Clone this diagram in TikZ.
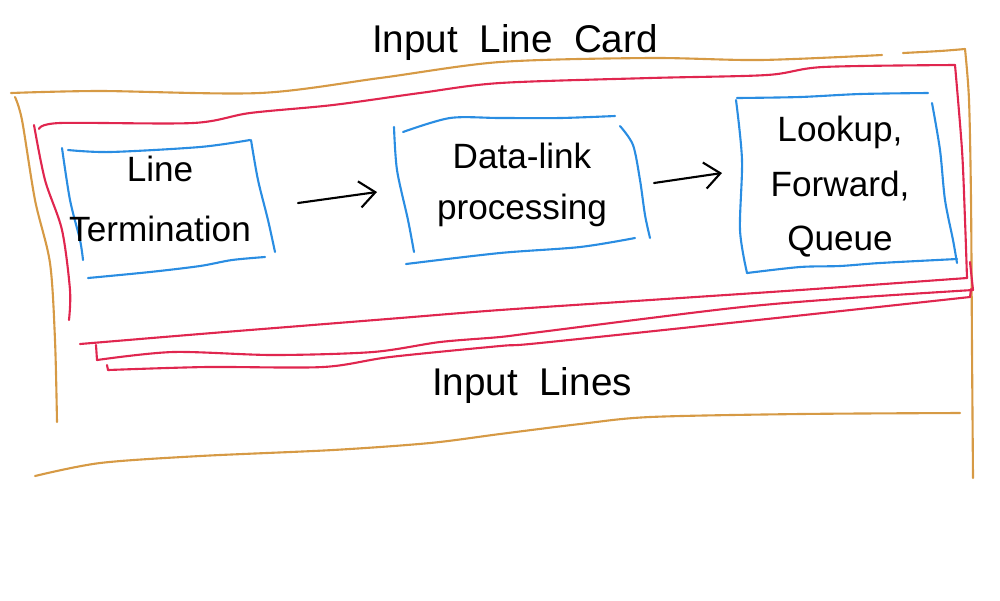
\documentclass[tikz,border=0pt]{standalone}
\usepackage{fontspec}
\setmainfont{Liberation Sans}
\usetikzlibrary{arrows.meta}
\definecolor{Ochre}{HTML}{D69A45}
\definecolor{Crimson}{HTML}{E0264F}
\definecolor{Sky}{HTML}{2A8DE2}
\begin{document}
\begin{tikzpicture}[x=.02cm,y=-.02cm,>={Straight Barb[length=9pt,width=15pt]},line cap=round,line join=round,
card/.style={Ochre,line width=1.2pt},lines/.style={Crimson,line width=1.2pt},unit/.style={Sky,line width=1.2pt},
hand/.style={font=\fontsize{20}{#1}\selectfont,align=center},title/.style={font=\fontsize{22}{26}\selectfont}]
\useasboundingbox(0,0)rectangle(1000,600);
% input line card (orange)
\draw[card]plot[smooth]coordinates{(11,93)(100,91)(260,93)(380,78)(500,62)(650,58)(760,60)(882,55)};
\draw[card]plot[smooth]coordinates{(903,53)(940,51)(965,49)};
\draw[card]plot[smooth]coordinates{(965,49)(969,100)(971,200)(972,350)(973,478)};
\draw[card]plot[smooth]coordinates{(15,97)(22,120)(35,200)(50,263)(55,340)(57,422)};
\draw[card]plot[smooth]coordinates{(35,476)(100,463)(200,456)(333,450)(430,443)(500,434)(580,424)(650,417)(800,414)(960,413)};
% line boxes (red)
\draw[lines]plot[smooth]coordinates{(39,129)(60,123)(193,123)(250,113)(333,105)(420,93)(500,83)(650,78)(767,75)(823,67)(955,65)};
\draw[lines]plot[smooth]coordinates{(955,65)(962,150)(965,220)(967,278)};
\draw[lines]plot[smooth]coordinates{(967,278)(800,290)(650,300)(500,310)(400,318)(300,326)(200,334)(80,344)};
\draw[lines]plot[smooth]coordinates{(34,125)(45,180)(62,230)(70,290)(69,320)};
\draw[lines](96,345)--(97,360);
\draw[lines]plot[smooth]coordinates{(97,360)(173,352)(273,355)(373,352)(440,342)(500,337)(540,332)(733,308)(850,298)(973,290)};
\draw[lines](970,262)--(973,290);
\draw[lines](107,365)--(108,370);
\draw[lines]plot[smooth]coordinates{(108,370)(207,367)(323,367)(390,357)(500,346)(540,343)(767,319)(970,297)};
\draw[lines](970,297)--(971,289);
% stages (blue)
\draw[unit]plot[smooth]coordinates{(68,150)(110,152)(200,147)(250,140)};
\draw[unit]plot[smooth]coordinates{(62,148)(70,200)(80,240)(83,260)};
\draw[unit]plot[smooth]coordinates{(251,140)(258,180)(268,220)(275,252)};
\draw[unit]plot[smooth]coordinates{(88,278)(150,272)(200,266)(232,260)(265,257)};
\draw[unit]plot[smooth]coordinates{(394,127)(397,170)(408,220)(414,252)};
\draw[unit]plot[smooth]coordinates{(403,132)(450,118)(500,118)(560,118)(615,116)};
\draw[unit]plot[smooth]coordinates{(620,126)(633,145)(640,180)(645,215)(650,238)};
\draw[unit]plot[smooth]coordinates{(406,264)(500,253)(580,247)(635,238)};
\draw[unit]plot[smooth]coordinates{(737,98)(800,97)(860,94)(928,93)};
\draw[unit]plot[smooth]coordinates{(736,100)(742,160)(740,230)(747,273)};
\draw[unit]plot[smooth]coordinates{(747,273)(800,267)(840,266)(880,263)(957,259)};
\draw[unit]plot[smooth]coordinates{(932,103)(940,150)(945,200)(953,240)(957,263)};
% labels
\node[title,anchor=base](card)at(515,52){Input\ \ Line\ \ Card};
\node[title,anchor=base](inl)at(532,395){Input\ \ Lines};
\node[hand=34](term)at(160,199){Line\\Termination};
\node[hand=29](dlp)at(522,185){Data-link\\processing};
\node[hand=31](lfq)at(840,187){Lookup,\\Forward,\\Queue};
% arrows
\coordinate(a1)at(298,203);\coordinate(b1)at(377,192);
\coordinate(a2)at(654,183);\coordinate(b2)at(722,173);
\draw[->,line width=1.2pt](a1)--(b1);
\draw[->,line width=1.2pt](a2)--(b2);
\end{tikzpicture}
\end{document}
